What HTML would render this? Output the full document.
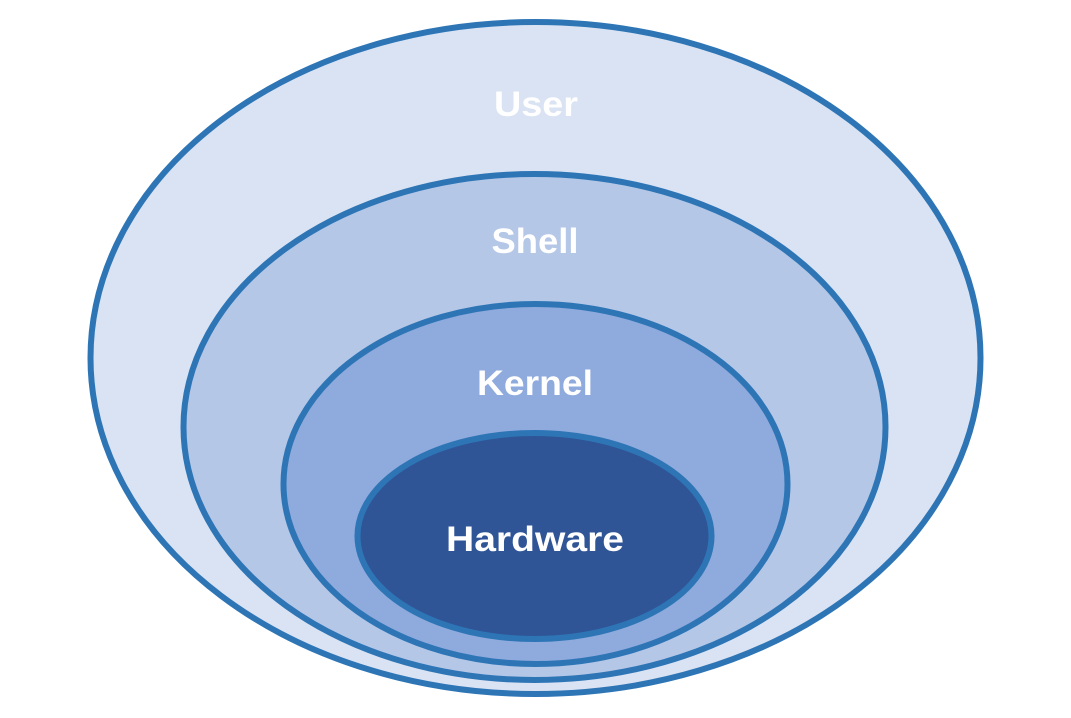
<!DOCTYPE html>
<html><head><style>html,body{margin:0;padding:0;background:#fff;}</style></head>
<body>
<svg width="1071" height="713" viewBox="0 0 1071 713" xmlns="http://www.w3.org/2000/svg">
<rect width="1071" height="713" fill="#fff"/>
<g stroke="#2e75b6" stroke-width="6">
<ellipse cx="535.5" cy="358" rx="445" ry="336" fill="#dae3f3"/>
<ellipse cx="534.5" cy="427" rx="351" ry="253" fill="#b4c7e7"/>
<ellipse cx="535.5" cy="484" rx="252" ry="180" fill="#8faadc"/>
<ellipse cx="534.5" cy="536" rx="177" ry="103" fill="#2f5597"/>
</g>
<g fill="#fff" font-family="Liberation Sans, sans-serif" font-weight="bold" font-size="35" text-anchor="middle" lengthAdjust="spacingAndGlyphs">
<text x="536" y="116" textLength="84" lengthAdjust="spacingAndGlyphs">User</text>
<text x="535" y="253" textLength="87" lengthAdjust="spacingAndGlyphs">Shell</text>
<text x="535" y="395" textLength="116" lengthAdjust="spacingAndGlyphs">Kernel</text>
<text x="535" y="551" textLength="178" lengthAdjust="spacingAndGlyphs">Hardware</text>
</g>
</svg>
</body></html>
